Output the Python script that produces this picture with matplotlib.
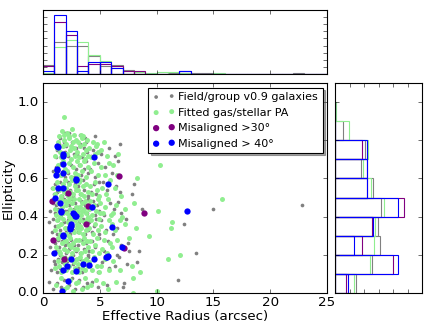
import numpy as np
import matplotlib
matplotlib.use('Agg')
import matplotlib.pyplot as plt

plt.style.use('classic')

# (effective radius [arcsec], ellipticity)
field_pts = [
    (0.55, 0.06), (0.9, 0.02), (0.7, 0.12), (0.95, 0.17), (0.6, 0.24), (0.85, 0.21), (0.98, 0.28),
    (0.5, 0.37), (0.75, 0.32), (0.92, 0.39), (0.65, 0.43), (0.88, 0.47), (0.8, 0.55), (0.97, 0.52),
    (0.9, 0.64),
    (1.22, 0.05), (1.58, 0.03), (1.85, 0.07),
    (1.08, 0.15), (1.2, 0.11), (1.35, 0.18), (1.47, 0.13), (1.63, 0.16), (1.76, 0.12), (1.94, 0.19),
    (1.03, 0.26), (1.16, 0.22), (1.29, 0.28), (1.41, 0.24), (1.54, 0.2), (1.68, 0.27), (1.81, 0.23), (1.97, 0.25),
    (1.06, 0.35), (1.19, 0.31), (1.33, 0.38), (1.46, 0.33), (1.59, 0.36), (1.72, 0.3), (1.84, 0.37), (1.99, 0.32),
    (1.04, 0.42), (1.17, 0.46), (1.31, 0.44), (1.43, 0.48), (1.56, 0.41), (1.7, 0.45), (1.82, 0.49), (1.95, 0.43),
    (1.09, 0.57), (1.25, 0.53), (1.39, 0.55), (1.52, 0.58), (1.66, 0.51), (1.79, 0.56), (1.93, 0.54),
    (1.13, 0.66), (1.37, 0.62), (1.6, 0.68), (1.75, 0.64), (1.9, 0.61),
    (1.11, 0.71), (1.27, 0.75), (1.44, 0.78), (1.61, 0.72), (1.86, 0.79), (1.98, 0.74),
    (1.53, 0.81), (1.9, 0.84),
    (2.25, 0.04), (2.55, 0.08), (2.8, 0.02),
    (2.07, 0.17), (2.21, 0.13), (2.39, 0.19), (2.52, 0.11), (2.68, 0.15), (2.9, 0.18),
    (2.03, 0.21), (2.16, 0.26), (2.3, 0.23), (2.45, 0.28), (2.6, 0.2), (2.74, 0.25), (2.93, 0.22),
    (2.09, 0.34), (2.22, 0.38), (2.36, 0.31), (2.5, 0.36), (2.65, 0.33), (2.78, 0.39), (2.96, 0.35),
    (2.02, 0.48), (2.13, 0.43), (2.27, 0.46), (2.41, 0.41), (2.56, 0.49), (2.69, 0.44), (2.84, 0.47), (2.99, 0.42),
    (2.06, 0.52), (2.24, 0.58), (2.42, 0.54), (2.61, 0.51), (2.79, 0.57), (2.94, 0.55),
    (2.19, 0.63), (2.46, 0.67), (2.72, 0.61), (2.89, 0.65),
    (2.05, 0.77), (2.2, 0.72), (2.37, 0.75), (2.58, 0.79), (2.75, 0.73), (2.91, 0.76),
    (2.33, 0.84),
    (3.2, 0.07), (3.55, 0.03), (3.85, 0.05),
    (3.06, 0.13), (3.24, 0.18), (3.4, 0.11), (3.58, 0.16), (3.74, 0.12), (3.92, 0.19),
    (3.1, 0.25), (3.28, 0.21), (3.46, 0.28), (3.63, 0.23), (3.8, 0.26), (3.97, 0.2),
    (3.04, 0.32), (3.19, 0.37), (3.35, 0.34), (3.5, 0.39), (3.66, 0.31), (3.83, 0.36), (3.95, 0.33),
    (3.08, 0.45), (3.23, 0.41), (3.38, 0.48), (3.53, 0.43), (3.69, 0.46), (3.86, 0.42), (3.99, 0.49),
    (3.12, 0.56), (3.3, 0.52), (3.48, 0.59), (3.65, 0.54), (3.82, 0.57), (3.96, 0.51),
    (3.15, 0.67), (3.37, 0.62), (3.57, 0.65), (3.78, 0.69), (3.93, 0.63),
    (3.03, 0.73), (3.22, 0.78), (3.42, 0.71), (3.6, 0.76), (3.77, 0.79), (3.9, 0.74),
    (3.27, 0.83), (3.7, 0.81),
    (4.3, 0.06), (4.8, 0.03), (4.12, 0.14), (4.5, 0.18), (4.86, 0.11),
    (4.05, 0.22), (4.35, 0.27), (4.62, 0.24), (4.9, 0.29),
    (4.08, 0.37), (4.28, 0.32), (4.47, 0.35), (4.7, 0.39), (4.95, 0.31),
    (4.15, 0.44), (4.38, 0.48), (4.55, 0.41), (4.76, 0.46), (4.97, 0.43),
    (4.2, 0.53), (4.45, 0.57), (4.68, 0.52), (4.92, 0.58),
    (4.1, 0.65), (4.58, 0.61), (4.83, 0.68), (4.25, 0.72), (4.65, 0.77), (4.4, 0.75), (4.6, 0.82),
    (5.6, 0.04), (5.2, 0.16), (5.8, 0.13), (5.35, 0.22), (5.7, 0.27), (5.1, 0.38), (5.55, 0.33),
    (5.4, 0.41), (5.9, 0.47), (5.25, 0.58), (5.65, 0.54), (5.5, 0.66), (5.15, 0.73), (5.85, 0.76),
    (6.3, 0.14), (6.7, 0.19), (6.5, 0.2), (6.85, 0.25), (6.5, 0.34), (6.15, 0.31),
    (6.63, 0.475), (6.25, 0.44), (6.9, 0.42), (6.4, 0.56), (6.75, 0.53), (6.1, 0.63), (6.6, 0.69),
    (6.35, 0.72), (6.8, 0.78),
    (7.1, 0.05), (7.4, 0.15), (7.6, 0.22), (7.3, 0.39), (7.8, 0.52), (7.5, 0.26), (7.0, 0.03),
    (8.75, 0.44), (8.46, 0.22), (8.3, 0.16), (8.05, 0.57), (11.9, 0.07), (12.4, 0.36),
    (13.45, 0.21), (14.95, 0.44), (22.8, 0.46),
]

fitted_pts = [
    (0.85, 0.55),
    (1.15, 0.04), (1.62, 0.08), (1.88, 0.02),
    (1.05, 0.13), (1.32, 0.17), (1.55, 0.11), (1.71, 0.19), (1.9, 0.15), (1.45, 0.14),
    (1.12, 0.24), (1.28, 0.29), (1.5, 0.21), (1.66, 0.26), (1.83, 0.23), (1.95, 0.28), (1.38, 0.22),
    (1.08, 0.33), (1.24, 0.38), (1.47, 0.31), (1.6, 0.36), (1.77, 0.39), (1.93, 0.34), (1.35, 0.35),
    (1.02, 0.44), (1.18, 0.41), (1.3, 0.47), (1.44, 0.43), (1.58, 0.49), (1.69, 0.45), (1.8, 0.42),
    (1.92, 0.48), (1.52, 0.4),
    (1.1, 0.52), (1.26, 0.58), (1.4, 0.54), (1.57, 0.51), (1.73, 0.57), (1.86, 0.53), (1.98, 0.59),
    (1.14, 0.63), (1.36, 0.67), (1.55, 0.62), (1.74, 0.69), (1.91, 0.65),
    (1.06, 0.72), (1.22, 0.76), (1.34, 0.79), (1.48, 0.74), (1.62, 0.71), (1.78, 0.77), (1.87, 0.8),
    (1.96, 0.73),
    (1.42, 0.82), (1.67, 0.85), (1.89, 0.83), (1.83, 0.92),
    (2.08, 0.03), (2.35, 0.07), (2.62, 0.01), (2.88, 0.05),
    (2.04, 0.12), (2.18, 0.18), (2.31, 0.14), (2.46, 0.19), (2.59, 0.11), (2.72, 0.16), (2.85, 0.13),
    (2.97, 0.18),
    (2.02, 0.27), (2.14, 0.22), (2.27, 0.25), (2.4, 0.29), (2.53, 0.21), (2.66, 0.26), (2.79, 0.23),
    (2.9, 0.28), (2.48, 0.24),
    (2.06, 0.31), (2.2, 0.37), (2.33, 0.33), (2.45, 0.39), (2.57, 0.35), (2.7, 0.32), (2.83, 0.38),
    (2.95, 0.34), (2.25, 0.3),
    (2.01, 0.46), (2.12, 0.42), (2.23, 0.48), (2.36, 0.44), (2.44, 0.41), (2.55, 0.47), (2.64, 0.43),
    (2.76, 0.49), (2.87, 0.45), (2.98, 0.42), (2.3, 0.4),
    (2.05, 0.55), (2.17, 0.51), (2.29, 0.57), (2.42, 0.53), (2.54, 0.59), (2.67, 0.52), (2.8, 0.56),
    (2.93, 0.54), (2.37, 0.5),
    (2.1, 0.64), (2.28, 0.68), (2.47, 0.61), (2.63, 0.66), (2.82, 0.63), (2.96, 0.69),
    (2.03, 0.78), (2.15, 0.73), (2.26, 0.81), (2.38, 0.75), (2.5, 0.7), (2.6, 0.79), (2.71, 0.76),
    (2.81, 0.72), (2.92, 0.8), (2.43, 0.77),
    (2.11, 0.84), (2.32, 0.82), (2.58, 0.86), (2.77, 0.83),
    (3.12, 0.06), (3.44, 0.02), (3.71, 0.08), (3.9, 0.03),
    (3.05, 0.15), (3.18, 0.11), (3.3, 0.19), (3.42, 0.13), (3.56, 0.17), (3.68, 0.12), (3.8, 0.18),
    (3.95, 0.14),
    (3.03, 0.23), (3.16, 0.28), (3.34, 0.21), (3.48, 0.26), (3.6, 0.29), (3.74, 0.22), (3.86, 0.27),
    (3.97, 0.24),
    (3.01, 0.36), (3.14, 0.32), (3.27, 0.38), (3.38, 0.34), (3.52, 0.31), (3.64, 0.37), (3.77, 0.33),
    (3.88, 0.39), (3.22, 0.35),
    (3.04, 0.43), (3.13, 0.49), (3.25, 0.45), (3.36, 0.41), (3.47, 0.47), (3.58, 0.44), (3.67, 0.48),
    (3.79, 0.42), (3.89, 0.46), (3.98, 0.4), (3.41, 0.43),
    (3.08, 0.54), (3.21, 0.58), (3.35, 0.52), (3.5, 0.56), (3.63, 0.51), (3.76, 0.57), (3.92, 0.53),
    (3.3, 0.59),
    (3.07, 0.62), (3.26, 0.67), (3.45, 0.64), (3.62, 0.69), (3.81, 0.61), (3.96, 0.66),
    (3.02, 0.74), (3.11, 0.79), (3.2, 0.71), (3.29, 0.77), (3.39, 0.81), (3.49, 0.73), (3.57, 0.78),
    (3.66, 0.7), (3.75, 0.75), (3.85, 0.8), (3.94, 0.72),
    (3.33, 0.83), (3.53, 0.82),
    (4.25, 0.04), (4.7, 0.07),
    (4.08, 0.16), (4.3, 0.12), (4.52, 0.19), (4.74, 0.14), (4.93, 0.11),
    (4.12, 0.27), (4.35, 0.22), (4.56, 0.25), (4.78, 0.29), (4.95, 0.21),
    (4.05, 0.34), (4.22, 0.38), (4.4, 0.31), (4.6, 0.36), (4.82, 0.33), (4.97, 0.39),
    (4.02, 0.44), (4.18, 0.48), (4.33, 0.41), (4.5, 0.46), (4.66, 0.43), (4.84, 0.49), (4.98, 0.42),
    (4.1, 0.56), (4.32, 0.52), (4.55, 0.58), (4.76, 0.54), (4.9, 0.51),
    (4.2, 0.64), (4.48, 0.68), (4.8, 0.62),
    (4.06, 0.76), (4.24, 0.71), (4.42, 0.79), (4.58, 0.73), (4.72, 0.78), (4.88, 0.74), (4.64, 0.77),
    (5.3, 0.05), (5.75, 0.02), (5.1, 0.14), (5.45, 0.18), (5.85, 0.12),
    (5.2, 0.23), (5.4, 0.28), (5.62, 0.21), (5.9, 0.26), (5.15, 0.35), (5.5, 0.32), (5.8, 0.38),
    (5.05, 0.47), (5.25, 0.42), (5.48, 0.45), (5.7, 0.49), (5.95, 0.41),
    (5.18, 0.55), (5.55, 0.52), (5.88, 0.59), (5.12, 0.66), (5.42, 0.62), (5.78, 0.68),
    (5.08, 0.75), (5.35, 0.79), (5.65, 0.72),
    (6.4, 0.06), (6.8, 0.12), (6.2, 0.17), (6.1, 0.24), (6.55, 0.28), (6.3, 0.33), (6.75, 0.38),
    (6.05, 0.36), (6.95, 0.4), (6.45, 0.46), (6.15, 0.42), (6.35, 0.55), (6.85, 0.51), (6.5, 0.62),
    (6.2, 0.67), (6.6, 0.73),
    (7.9, 0.0), (7.9, 0.08), (7.6, 0.29), (7.8, 0.14), (7.25, 0.44), (7.2, 0.36), (8.5, 0.11),
    (8.05, 0.47), (8.2, 0.34), (8.3, 0.6), (9.35, 0.3), (10.0, 0.01), (10.1, 0.43), (10.3, 0.67),
    (11.0, 0.18), (11.3, 0.34), (11.4, 0.37), (12.1, 0.2), (15.8, 0.49),
]

mis30_pts = [
    (0.82, 0.481), (0.91, 0.277), (1.88, 0.178), (2.22, 0.522), (3.99, 0.455),
    (3.79, 0.361), (6.72, 0.611), (7.13, 0.237), (8.86, 0.42),
]

mis40_pts = [
    (1.26, 0.768), (1.79, 0.728), (1.79, 0.678), (4.52, 0.713), (1.2, 0.644), (1.79, 0.631),
    (1.12, 0.616), (2.9, 0.597), (1.35, 0.55), (1.79, 0.55), (5.75, 0.569), (1.06, 0.496),
    (1.5, 0.47), (4.29, 0.45), (1.58, 0.424), (2.7, 0.412), (2.9, 0.401), (2.5, 0.353),
    (2.38, 0.334), (6.1, 0.344), (1.79, 0.299), (6.93, 0.239), (0.99, 0.208), (2.5, 0.178),
    (5.55, 0.188), (5.72, 0.195), (2.14, 0.143), (3.49, 0.15), (4.08, 0.145), (1.79, 0.119),
    (2.9, 0.116), (2.23, 0.062), (1.67, 0.01), (12.7, 0.43),
    (1.3, 0.765), (1.8, 0.72), (1.2, 0.65), (2.9, 0.59), (2.6, 0.42), (2.85, 0.405),
    (1.55, 0.43), (2.4, 0.345), (2.5, 0.36), (1.75, 0.305), (4.5, 0.18), (5.6, 0.19),
]

labels = ['Field/group v0.9 galaxies', 'Fitted gas/stellar PA',
          u'Misaligned >30\u00b0', u'Misaligned > 40\u00b0']
colors = ['gray', 'lightgreen', 'purple', 'blue']
sizes = [11, 20, 32, 32]

field = np.array(field_pts)
fitted = np.array(fitted_pts)
mis40 = np.array(mis40_pts)
mis30_only = np.array(mis30_pts)
# >30 deg sample also holds the >40 deg ones
mis30 = np.vstack([mis30_only, mis40])

fig = plt.figure(figsize=(436 / 80., 327 / 80.), dpi=80, facecolor='white')
ax = fig.add_axes([0.0986, 0.104, 0.6514, 0.642])
axt = fig.add_axes([0.0986, 0.774, 0.6514, 0.195])
axr = fig.add_axes([0.769, 0.104, 0.1995, 0.642])

for pts, c, s, lab in zip([field, fitted, mis30_only, mis40], colors, sizes, labels):
    ax.scatter(pts[:, 0], pts[:, 1], s=s, c=c, linewidths=0, label=lab)

ax.set_xlim(0, 25)
ax.set_ylim(0, 1.1)
ax.set_xticks(np.arange(0, 26, 5))
ax.set_yticks(np.arange(0, 1.01, 0.2))
ax.tick_params(axis='x', pad=3)
ax.set_xlabel('Effective Radius (arcsec)', labelpad=1)
ax.set_ylabel('Ellipticity', labelpad=2)
leg = ax.legend(loc='upper right', scatterpoints=2, fontsize=10, shadow=True,
                handletextpad=0.3, borderaxespad=0.4)

rbins = np.arange(0, 26, 1)
ebins = np.linspace(0, 1, 11)
for pts, c in zip([field, fitted, mis30, mis40], colors):
    axt.hist(pts[:, 0], bins=rbins, density=True, histtype='bar', fill=False,
             edgecolor=c, lw=1)
    axr.hist(pts[:, 1], bins=ebins, density=True, histtype='bar', fill=False,
             edgecolor=c, lw=1, orientation='horizontal')

axt.set_xlim(0, 25)
axt.set_ylim(0, 0.45)
axt.set_xticks(np.arange(0, 26, 5))
axt.set_yticks(np.arange(0, 0.451, 0.05))
axt.set_xticklabels([])
axt.set_yticklabels([])

axr.set_ylim(0, 1.1)
axr.set_xlim(0, 3.0)
axr.set_xticks(np.arange(0, 3.01, 0.5))
axr.set_yticks(np.arange(0, 1.01, 0.2))
axr.set_xticklabels([])
axr.set_yticklabels([])

fig.savefig('out.png', dpi=80, facecolor='white')
